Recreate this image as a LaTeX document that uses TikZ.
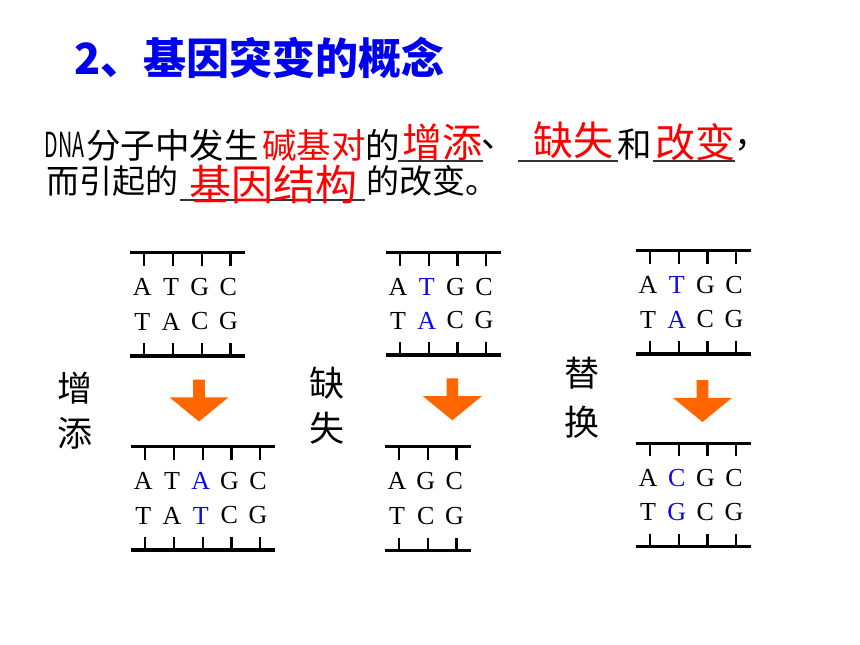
\documentclass[tikz,border=0pt]{standalone}
\usepackage{fontspec}
\usepackage{graphicx}
\setmainfont{Liberation Serif}
\newfontfamily\cjk{Noto Sans CJK SC}
\definecolor{titleblue}{RGB}{0,0,240}
\definecolor{keyred}{RGB}{255,0,0}
\definecolor{baseblue}{RGB}{10,10,235}
\definecolor{arroworange}{RGB}{255,102,0}
\tikzset{
  txt/.style={inner sep=0pt, anchor=west},
  blk/.style={txt, font=\cjk\fontsize{34.5}{34.5}\selectfont},
  blkb/.style={txt, font=\cjk\fontsize{33}{33}\selectfont},
  keyword/.style={inner sep=0pt, anchor=center, text=keyred, font=\cjk\fontsize{40}{40}\selectfont},
  blank/.style={line width=1.2pt, draw=black!80},
  sidelabel/.style={inner sep=0pt, anchor=center, font=\cjk\fontsize{35}{35}\selectfont},
  baseletter/.style={inner sep=0pt, anchor=center, font=\fontsize{26}{26}\selectfont},
  barline/.style={line width=3.3pt, draw=black},
  tickline/.style={line width=2.3pt, draw=black},
  arrowfill/.style={fill=arroworange},
}
% #1 name, #2 first tick x, #3 top bar y, #4 bottom bar y, #5 count, #6 list top/bottom/colour
\newcommand\dnapiece[6]{%
  \draw[barline] ({#2-14.5},#3) -- ({#2+(#5-1)*28.7+14.5},#3);
  \draw[barline] ({#2-14.5},#4) -- ({#2+(#5-1)*28.7+14.5},#4);
  \foreach \k in {1,...,#5}{
    \draw[tickline] ({#2+(\k-1)*28.7},#3) -- ++(0,13);
    \draw[tickline] ({#2+(\k-1)*28.7},#4) -- ++(0,-13);
  }
  \foreach \t/\b/\c [count=\k] in {#6}{
    \node[baseletter, text=\c] (#1t\k) at ({#2+(\k-1)*28.7-2},{#3+34.5}) {\t};
    \node[baseletter, text=\c] (#1b\k) at ({#2+(\k-1)*28.7-2},{#4-34.5}) {\b};
  }
}
% #1 centre x, #2 top y
\newcommand\orangedown[2]{%
  \fill[arrowfill] ({#1-5.8},#2) -- ({#1+5.8},#2) -- ({#1+5.8},{#2+17.8})
    -- ({#1+29.5},{#2+17.8}) -- (#1,{#2+42}) -- ({#1-29.5},{#2+17.8})
    -- ({#1-5.8},{#2+17.8}) -- cycle;
}
\begin{document}
\begin{tikzpicture}[x=1pt,y=-1pt]
\useasboundingbox (0,0) rectangle (860,645);
\fill[white] (0,0) rectangle (860,645);

% title
\node[txt, text=titleblue, font=\cjk\bfseries\fontsize{43}{43}\selectfont] (title) at (74,57.5) {2、基因突变的概念};

% line 1
\node[blk] (dna) at (44.5,145) {\scalebox{0.57}[1]{DNA}};
\node[blk] (l1a) at (86,145) {分子中发生};
\node[blk, text=keyred] (l1b) at (262,145) {碱基对};
\node[blk] (l1c) at (365.5,145) {的};
\draw[blank] (398,161) -- (483,161);
\node[keyword] (k1) at (442.5,142.5) {增添};
\node[blk] (l1d) at (481,145) {、};
\draw[blank] (518,161) -- (618,161);
\node[keyword] (k2) at (573,140.5) {缺失};
\node[blk] (l1e) at (617,145) {和};
\draw[blank] (653,161) -- (735,161);
\node[keyword] (k3) at (695,142) {改变};
\node[blk] (l1f) at (734,145) {，};

% line 2
\node[blkb] (l2a) at (46.5,181) {而引起的};
\draw[blank] (180,200) -- (365,200);
\node[keyword, font=\cjk\fontsize{42}{42}\selectfont] (k4) at (273,184.5) {基因结构};
\node[blkb] (l2b) at (366,181) {的改变。};

% side labels
\node[sidelabel] (s1a) at (75,388) {增};
\node[sidelabel] (s1b) at (75,433) {添};
\node[sidelabel] (s2a) at (326.7,383.3) {缺};
\node[sidelabel] (s2b) at (326.7,428.3) {失};
\node[sidelabel] (s3a) at (581.7,373.3) {替};
\node[sidelabel] (s3b) at (581.7,421.7) {换};

% DNA pieces
\dnapiece{pa}{144.3}{252.7}{356}{4}{A/T/black, T/A/black, G/C/black, C/G/black}
\dnapiece{pb}{145.3}{446.7}{550}{5}{A/T/black, T/A/black, A/T/baseblue, G/C/black, C/G/black}
\dnapiece{qa}{400}{252.7}{355}{4}{A/T/black, T/A/baseblue, G/C/black, C/G/black}
\dnapiece{qb}{399}{446.7}{550.7}{3}{A/T/black, G/C/black, C/G/black}
\dnapiece{ra}{650}{250.7}{354}{4}{A/T/black, T/A/baseblue, G/C/black, C/G/black}
\dnapiece{rb}{650}{443.3}{546.7}{4}{A/T/black, C/G/baseblue, G/C/black, C/G/black}

% arrows
\orangedown{199}{379.5}
\orangedown{452.3}{378.3}
\orangedown{702.5}{380}
\end{tikzpicture}
\end{document}
